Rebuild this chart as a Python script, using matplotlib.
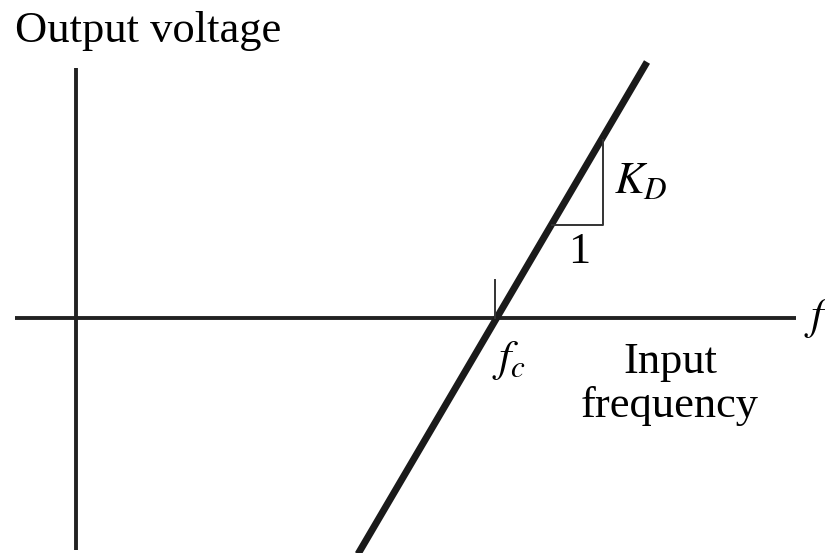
import matplotlib.pyplot as plt

# Diagram values (x: input frequency, y: output voltage), origin at the axes crossing
f_c = 4.19
line_f = [2.82, 5.71]
line_v = [-2.36, 2.56]

# slope triangle showing K_D per unit frequency
tri_f = [4.76, 5.27, 5.27]
tri_v = [0.93, 0.93, 1.78]

# axis extents
x_axis = [-0.61, 7.20]
y_axis = [-2.32, 2.50]

plt.rcParams['font.family'] = ['Liberation Serif', 'DejaVu Serif']
plt.rcParams['mathtext.fontset'] = 'stix'

fig = plt.figure(figsize=(8.25, 5.53), dpi=100)
ax = fig.add_axes([0, 0, 1, 1])
ax.set_xlim(-0.76, 7.49)
ax.set_ylim(-2.35, 3.18)
ax.axis('off')

# axes
ax.plot(x_axis, [0, 0], color='#222222', lw=2.8, solid_capstyle='butt')
ax.plot([0, 0], y_axis, color='#222222', lw=2.8, solid_capstyle='butt')

# characteristic line
ax.plot(line_f, line_v, color='#1a1a1a', lw=5, solid_capstyle='butt')

# slope triangle and f_c tick
ax.plot(tri_f, tri_v, color='#333333', lw=1.4)
ax.plot([f_c, f_c], [0, 0.38], color='#333333', lw=1.4)

# labels
ax.text(-0.61, 2.76, 'Output voltage', fontsize=32, ha='left', va='baseline')
ax.text(7.28, 0.0, '$f$', fontsize=32, ha='left', va='center')
ax.text(5.38, 1.36, '$K_D$', fontsize=32, ha='left', va='center')
ax.text(5.03, 0.66, '1', fontsize=32, ha='center', va='center')
ax.text(4.16, -0.42, '$f_c$', fontsize=32, ha='left', va='center')
ax.text(5.94, -0.66, 'Input\nfrequency', fontsize=32, ha='center', va='center',
        linespacing=1.1)

fig.savefig('out.png', dpi=100)
